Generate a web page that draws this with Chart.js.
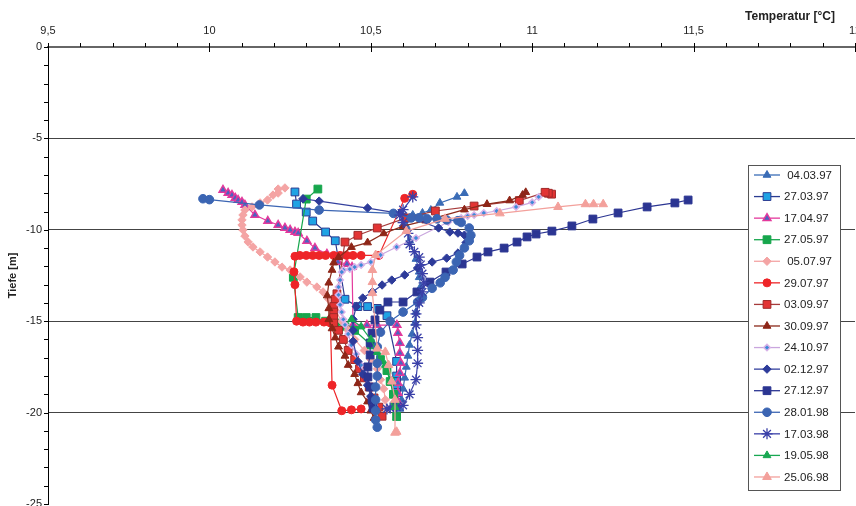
<!DOCTYPE html>
<html>
<head>
<meta charset="utf-8">
<script src="https://cdn.jsdelivr.net/npm/chart.js"></script>
<style>
  html,body{margin:0;padding:0;background:#fff;overflow:hidden;}
  canvas{display:block;}
</style>
</head>
<body>
<canvas id="c" width="856" height="506"></canvas>
<script>
// ---- data: [temperature °C, depth m] ----
const seriesLabels = [' 04.03.97','27.03.97','17.04.97','27.05.97',' 05.07.97','29.07.97','03.09.97','30.09.97','24.10.97','02.12.97','27.12.97','28.01.98','17.03.98','19.05.98','25.06.98'];

const s_040397 = [[10.79,-8.0],[10.767,-8.2],[10.714,-8.53],[10.686,-8.92],[10.66,-9.08],[10.63,-9.19],[10.606,-9.3],[10.61,-9.8],[10.62,-10.6],[10.64,-11.6],[10.65,-12.3],[10.65,-12.6],[10.655,-13.1],[10.65,-13.8],[10.64,-14.5],[10.637,-15.1],[10.628,-15.7],[10.62,-16.3],[10.615,-16.9],[10.61,-17.5],[10.605,-18.1],[10.6,-18.7],[10.595,-19.3],[10.59,-19.8]];
const s_270397 = [[10.265,-7.93],[10.27,-8.59],[10.30,-9.03],[10.32,-9.52],[10.36,-10.12],[10.39,-10.6],[10.42,-13.8],[10.46,-14.2],[10.49,-14.2],[10.52,-14.3],[10.55,-14.7],[10.58,-17.2],[10.58,-18.0],[10.58,-18.3],[10.58,-18.6],[10.58,-18.9]];
const s_170497 = [[10.042,-7.82],[10.058,-7.99],[10.07,-8.1],[10.08,-8.26],[10.089,-8.37],[10.101,-8.48],[10.11,-8.64],[10.141,-9.19],[10.181,-9.52],[10.213,-9.74],[10.234,-9.9],[10.25,-10.01],[10.265,-10.12],[10.275,-10.18],[10.302,-10.61],[10.327,-11.0],[10.364,-11.32],[10.398,-11.76],[10.426,-11.87],[10.442,-12.04],[10.445,-15.21],[10.488,-15.21],[10.519,-15.21],[10.581,-15.21],[10.584,-15.65],[10.59,-16.19],[10.59,-16.74],[10.593,-17.29],[10.59,-17.83],[10.584,-18.38],[10.584,-18.93],[10.584,-19.42]];
const s_270597 = [[10.336,-7.77],[10.30,-8.32],[10.26,-12.6],[10.275,-14.8],[10.30,-14.8],[10.33,-14.8],[10.36,-15.0],[10.39,-15.1],[10.42,-15.3],[10.45,-15.5],[10.50,-16.3],[10.53,-17.1],[10.55,-17.7],[10.56,-18.3],[10.57,-19.0],[10.575,-19.6],[10.58,-20.2]];
const s_050797 = [[10.234,-7.71],[10.213,-7.77],[10.213,-7.99],[10.197,-8.1],[10.18,-8.37],[10.157,-8.53],[10.132,-8.75],[10.11,-8.92],[10.104,-9.19],[10.101,-9.46],[10.101,-9.74],[10.104,-10.01],[10.11,-10.34],[10.12,-10.67],[10.135,-10.94],[10.157,-11.21],[10.18,-11.49],[10.203,-11.76],[10.225,-12.04],[10.25,-12.2],[10.281,-12.58],[10.302,-12.86],[10.333,-13.13],[10.352,-13.4],[10.37,-13.8],[10.39,-14.4],[10.41,-15.0],[10.43,-15.5],[10.45,-16.0],[10.48,-16.6],[10.50,-17.1],[10.52,-17.6],[10.53,-18.2],[10.54,-18.7],[10.545,-19.3],[10.55,-19.8]];
const s_290797 = [[10.63,-8.06],[10.605,-8.28],[10.525,-11.4],[10.47,-11.4],[10.445,-11.4],[10.425,-11.4],[10.405,-11.4],[10.385,-11.4],[10.36,-11.4],[10.34,-11.4],[10.32,-11.4],[10.30,-11.4],[10.28,-11.4],[10.265,-11.45],[10.262,-12.3],[10.265,-13.0],[10.27,-15.0],[10.29,-15.05],[10.31,-15.05],[10.33,-15.05],[10.355,-15.05],[10.375,-15.1],[10.38,-18.5],[10.41,-19.9],[10.44,-19.85],[10.47,-19.8]];
const s_030997 = [[11.06,-8.05],[11.05,-8.0],[11.04,-7.95],[10.96,-8.4],[10.82,-8.7],[10.70,-8.97],[10.61,-9.35],[10.52,-9.9],[10.46,-10.3],[10.42,-10.67],[10.395,-13.5],[10.39,-13.8],[10.385,-14.2],[10.385,-14.5],[10.385,-14.8],[10.385,-15.1],[10.40,-15.5],[10.415,-16.0],[10.43,-16.6],[10.45,-17.1],[10.465,-17.6],[10.48,-18.1],[10.495,-18.6],[10.51,-19.2],[10.525,-19.7],[10.535,-20.2]];
const s_300997 = [[10.98,-7.95],[10.97,-8.1],[10.93,-8.4],[10.86,-8.6],[10.79,-8.9],[10.67,-9.5],[10.60,-9.8],[10.54,-10.2],[10.49,-10.7],[10.44,-10.95],[10.40,-11.5],[10.385,-11.8],[10.38,-12.2],[10.37,-12.9],[10.365,-13.6],[10.37,-14.3],[10.37,-14.9],[10.38,-15.4],[10.39,-15.9],[10.40,-16.4],[10.42,-16.9],[10.43,-17.4],[10.45,-17.9],[10.46,-18.4],[10.47,-18.9],[10.49,-19.4],[10.50,-19.9],[10.51,-20.3]];
const s_241097 = [[11.02,-8.2],[11.0,-8.5],[10.95,-8.75],[10.89,-8.97],[10.85,-9.08],[10.82,-9.19],[10.80,-9.24],[10.78,-9.35],[10.74,-9.57],[10.64,-10.45],[10.58,-10.94],[10.53,-11.38],[10.50,-11.76],[10.47,-11.93],[10.45,-12.04],[10.435,-12.15],[10.415,-12.2],[10.41,-12.31],[10.405,-12.75],[10.40,-13.13],[10.40,-13.56],[10.405,-14.1],[10.41,-14.5],[10.415,-14.9],[10.42,-15.2],[10.43,-15.7],[10.44,-16.3],[10.455,-16.8],[10.47,-17.4],[10.48,-17.8],[10.49,-18.5],[10.50,-19.2],[10.51,-19.6]];
const s_021297 = [[10.29,-8.3],[10.34,-8.43],[10.49,-8.81],[10.59,-9.1],[10.71,-9.9],[10.745,-10.12],[10.77,-10.18],[10.79,-10.29],[10.805,-10.45],[10.795,-10.7],[10.77,-11.27],[10.735,-11.55],[10.69,-11.76],[10.645,-12.09],[10.605,-12.47],[10.565,-12.75],[10.535,-13.02],[10.505,-13.4],[10.475,-13.73],[10.455,-14.2],[10.445,-14.9],[10.445,-15.5],[10.445,-16.1],[10.46,-17.2],[10.475,-17.9],[10.49,-18.5],[10.50,-19.1],[10.51,-19.7]];
const s_271297 = [[11.483,-8.37],[11.442,-8.53],[11.356,-8.75],[11.266,-9.08],[11.188,-9.41],[11.123,-9.79],[11.061,-10.07],[11.012,-10.23],[10.984,-10.39],[10.953,-10.67],[10.913,-11.0],[10.863,-11.21],[10.829,-11.49],[10.783,-11.87],[10.733,-12.31],[10.683,-12.86],[10.643,-13.4],[10.60,-13.95],[10.553,-13.95],[10.528,-14.39],[10.513,-14.93],[10.504,-15.65],[10.498,-16.19],[10.498,-16.85],[10.491,-17.5],[10.491,-18.05],[10.498,-18.6],[10.504,-19.31],[10.507,-19.75]];
const s_280198 = [[9.98,-8.3],[10.0,-8.35],[10.155,-8.64],[10.34,-8.92],[10.57,-9.1],[10.625,-9.35],[10.65,-9.35],[10.675,-9.4],[10.705,-9.4],[10.735,-9.46],[10.77,-9.5],[10.78,-9.6],[10.805,-9.9],[10.81,-10.3],[10.805,-10.6],[10.79,-10.99],[10.775,-11.4],[10.765,-11.76],[10.755,-12.2],[10.73,-12.6],[10.715,-12.9],[10.69,-13.2],[10.66,-13.7],[10.645,-13.95],[10.60,-14.5],[10.56,-15.0],[10.53,-15.6],[10.52,-16.4],[10.52,-17.3],[10.52,-18.0],[10.515,-18.6],[10.515,-19.3],[10.515,-19.9],[10.515,-20.4],[10.52,-20.8]];
const s_170398 = [[10.63,-8.2],[10.6,-8.9],[10.59,-9.2],[10.6,-9.6],[10.615,-10.2],[10.62,-10.8],[10.635,-11.2],[10.65,-11.5],[10.655,-11.9],[10.66,-12.4],[10.665,-12.9],[10.66,-13.4],[10.65,-14.0],[10.64,-14.6],[10.64,-15.2],[10.645,-15.9],[10.645,-16.6],[10.645,-17.3],[10.64,-18.2],[10.62,-19.0],[10.60,-19.6],[10.58,-19.7],[10.56,-19.75],[10.55,-19.8]];
const s_190598 = [[10.44,-14.9],[10.47,-15.3],[10.50,-16.0],[10.52,-16.7],[10.545,-17.4],[10.56,-18.2],[10.57,-19.0],[10.575,-19.7],[10.58,-20.3]];
const s_250698 = [[11.22,-8.6],[11.19,-8.6],[11.165,-8.6],[11.08,-8.75],[10.90,-9.1],[10.73,-9.4],[10.61,-10.07],[10.515,-11.38],[10.505,-12.2],[10.505,-12.86],[10.505,-13.46],[10.52,-16.5],[10.545,-16.68],[10.555,-17.4],[10.565,-18.3],[10.575,-19.3],[10.575,-21.1],[10.58,-21.05]];

const seriesData = [s_040397,s_270397,s_170497,s_270597,s_050797,s_290797,s_030997,s_300997,s_241097,s_021297,s_271297,s_280198,s_170398,s_190598,s_250698];

// ---- styles ----
const styles = [
  {line:'#3A6CB6', style:'triangle', r:4.5, fill:'#3A6CB6', stroke:'#3A6CB6', bw:1},
  {line:'#2B3C92', style:'rect',     r:5.5, fill:'#1FA3E4', stroke:'#2B3C92', bw:1},
  {line:'#E4399C', style:'triangle', r:4.5, fill:'#4A64C0', stroke:'#E4399C', bw:1.5},
  {line:'#16A64C', style:'rect',     r:5.5, fill:'#16A64C', stroke:'#16A64C', bw:1},
  {line:'#F4A4A4', style:'rectRot',  r:4.2, fill:'#F4A4A4', stroke:'#F4A4A4', bw:1},
  {line:'#EE2528', style:'circle',   r:4,   fill:'#EE2528', stroke:'#EE2528', bw:1},
  {line:'#A63A3A', style:'rect',     r:5.5, fill:'#E23434', stroke:'#A02A2A', bw:1},
  {line:'#8B2A1A', style:'triangle', r:4.5, fill:'#8E2618', stroke:'#8E2618', bw:1},
  {line:'#C9A6DE', style:'rectRot',  r:3.2, fill:'#3C8AD8', stroke:'#D8B2E8', bw:1.5},
  {line:'#34419E', style:'rectRot',  r:4.2, fill:'#2D3B9A', stroke:'#2D3B9A', bw:1},
  {line:'#2B3592', style:'rect',     r:5.5, fill:'#2B3592', stroke:'#2B3592', bw:1},
  {line:'#3B65B3', style:'circle',   r:4.3, fill:'#3B65B3', stroke:'#3B65B3', bw:1},
  {line:'#3A40A8', style:'star',     r:5.5, fill:'#3A40A8', stroke:'#3A40A8', bw:1.3},
  {line:'#18A852', style:'triangle', r:4.5, fill:'#18A852', stroke:'#18A852', bw:1},
  {line:'#F3A09B', style:'triangle', r:5,   fill:'#F3A09B', stroke:'#F3A09B', bw:1}
];

const FONT = '"Liberation Sans", Arial, Helvetica, sans-serif';

const datasets = seriesData.map((arr, i) => ({
  label: seriesLabels[i].trim(),
  data: arr.map(p => ({x: p[0], y: p[1]})),
  showLine: true,
  borderColor: styles[i].line,
  borderWidth: 1.2,
  pointStyle: styles[i].style,
  pointRadius: styles[i].r,
  pointBackgroundColor: styles[i].fill,
  pointBorderColor: styles[i].stroke,
  pointBorderWidth: styles[i].bw,
  order: -i
}));

function drawMarker(ctx, st, x, y) {
  ctx.fillStyle = st.fill; ctx.strokeStyle = st.stroke; ctx.lineWidth = st.bw;
  if (Chart.helpers && Chart.helpers.drawPoint) {
    Chart.helpers.drawPoint(ctx, {pointStyle: st.style, radius: st.r, rotation: 0, borderWidth: st.bw}, x, y);
    return;
  }
  ctx.beginPath(); ctx.arc(x, y, st.r, 0, Math.PI*2); ctx.fill(); ctx.stroke();
}

const deco = {
  id: 'deco',
  afterDraw(chart) {
    const {ctx, chartArea: a, scales: {x, y}} = chart;
    ctx.save();
    // y-axis ticks (every metre)
    ctx.strokeStyle = '#000'; ctx.lineWidth = 1;
    for (let v = 0; v >= -25; v--) {
      const py = Math.round(y.getPixelForValue(v)) + 0.5;
      ctx.beginPath(); ctx.moveTo(a.left - 4, py); ctx.lineTo(a.left, py); ctx.stroke();
    }
    // x-axis ticks (every 0.1 °C)
    for (let k = 0; k <= 25; k++) {
      const px = Math.round(x.getPixelForValue(9.5 + k * 0.1)) + 0.5;
      const major = k % 5 === 0;
      ctx.beginPath(); ctx.moveTo(px, a.top - 4); ctx.lineTo(px, major ? a.top + 5 : a.top); ctx.stroke();
    }
    // axis title (top right)
    ctx.font = 'bold 12px ' + FONT;
    ctx.fillStyle = '#222'; ctx.textAlign = 'right'; ctx.textBaseline = 'middle';
    ctx.fillText('Temperatur [°C]', 835, 17);
    // legend
    const lx = 748, ly = 165, lw = 92, lh = 325;
    ctx.fillStyle = '#fff'; ctx.fillRect(lx, ly, lw, lh);
    ctx.strokeStyle = '#555'; ctx.lineWidth = 1; ctx.strokeRect(lx + 0.5, ly + 0.5, lw, lh);
    ctx.font = '11.5px ' + FONT; ctx.textAlign = 'left'; ctx.textBaseline = 'middle';
    seriesLabels.forEach((lab, i) => {
      const cy = 175 + i * 21.57;
      ctx.strokeStyle = styles[i].line; ctx.lineWidth = 1.3;
      ctx.beginPath(); ctx.moveTo(754, cy); ctx.lineTo(780, cy); ctx.stroke();
      drawMarker(ctx, styles[i], 767, cy);
      ctx.fillStyle = '#222';
      ctx.fillText(lab, 784, cy + 0.5);
    });
    ctx.restore();
  }
};

new Chart(document.getElementById('c'), {
  type: 'scatter',
  data: {datasets},
  options: {
    responsive: false,
    devicePixelRatio: 1,
    animation: false,
    layout: {autoPadding: false, padding: {left: 0, right: 1, top: 0, bottom: 2}},
    plugins: {legend: {display: false}, tooltip: {enabled: false}},
    scales: {
      x: {
        type: 'linear', position: 'top', min: 9.5, max: 12,
        ticks: {stepSize: 0.5, padding: 9, color: '#222', font: {family: FONT, size: 11},
          callback: v => String(v).replace('.', ',')},
        grid: {display: true, drawOnChartArea: false, drawTicks: false},
        border: {display: true, color: '#666', width: 2},
        afterFit: s => { s.height = 47; s.paddingLeft = 0; s.paddingRight = 0; }
      },
      y: {
        type: 'linear', position: 'left', min: -25, max: 0,
        ticks: {stepSize: 5, padding: 6, color: '#222', font: {family: FONT, size: 11},
          callback: v => String(v)},
        grid: {drawTicks: false, lineWidth: 1,
          color: c => (c.tick && (c.tick.value === 0 || c.tick.value === -25)) ? 'rgba(0,0,0,0)' : '#444'},
        border: {display: true, color: '#000', width: 1},
        title: {display: true, text: 'Tiefe [m]', color: '#222', font: {family: FONT, size: 11, weight: 'bold'}, padding: {top: 6, bottom: 0}},
        afterFit: s => { s.width = 48; s.paddingTop = 0; s.paddingBottom = 0; }
      }
    }
  },
  plugins: [deco]
});
</script>
</body>
</html>
